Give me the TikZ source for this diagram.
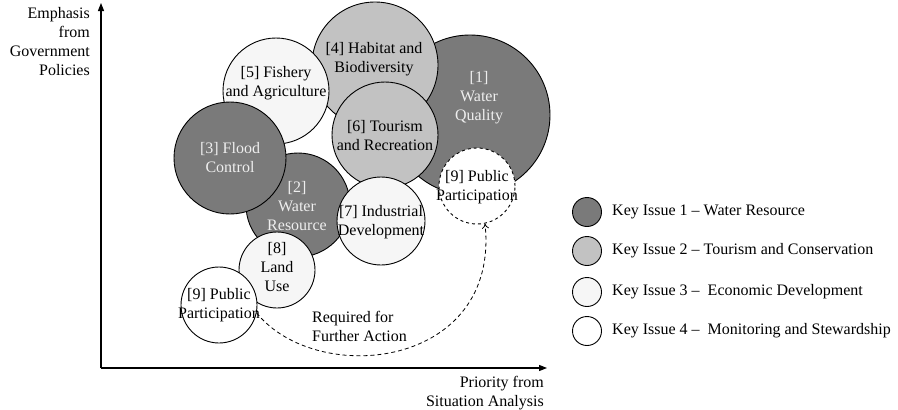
\documentclass[tikz,border=0pt]{standalone}
\usepackage{fontspec}
\setmainfont{Liberation Serif}
\usetikzlibrary{arrows.meta}
\definecolor{kdark}{HTML}{7A7A7A}
\definecolor{kmid}{HTML}{C2C2C2}
\definecolor{klight}{HTML}{F6F6F6}
\definecolor{ktext}{HTML}{EEEEEE}
\begin{document}
\begin{tikzpicture}[x=1pt,y=-1pt,
  every node/.style={font=\fontsize{16}{19}\selectfont},
  bub/.style={circle,draw=black,line width=0.9pt,inner sep=0pt,minimum size=#1},
  dark/.style={fill=kdark},
  mid/.style={fill=kmid},
  light/.style={fill=klight},
  wht/.style={fill=white},
  ctext/.style={align=center,inner sep=0pt},
  dtext/.style={ctext,text=ktext},
  axis/.style={line width=1.1pt,-{Triangle[length=8pt,width=6pt]}},
  legtext/.style={anchor=west,inner sep=0pt}]
\useasboundingbox (0,0) rectangle (898,410);
% bubbles
\node[bub=160pt,dark] (c1) at (470,115) {};
\node[bub=126pt,mid] (c4) at (375,65) {};
\node[bub=106pt,light] (c5) at (276,91) {};
\node[bub=106pt,mid] (c6) at (385,135) {};
\node[bub=104pt,dark] (c2) at (298,205) {};
\node[bub=112pt,dark] (c3) at (230,158) {};
\node[bub=88pt,light] (c7) at (381,221) {};
\node[bub=76pt,light] (c8) at (277,270) {};
\node[bub=76pt,wht] (c9a) at (219,305) {};
\node[bub=76pt,wht,dashed] (c9b) at (477,186) {};
% texts
\node[dtext] (t1) at (479,98) {[1]\\Water\\Quality};
\node[ctext] (t4) at (374,59) {[4] Habitat and\\Biodiversity};
\node[ctext] (t5) at (276,83) {[5] Fishery\\and Agriculture};
\node[ctext] (t6) at (385,136) {[6] Tourism\\and Recreation};
\node[dtext] (t2) at (297,206) {[2]\\Water\\Resource};
\node[dtext] (t3) at (230,158) {[3] Flood\\Control};
\node[ctext] (t7) at (381,222) {[7] Industrial\\Development};
\node[ctext] (t8) at (277,267) {[8]\\Land\\Use};
\node[ctext] (t9a) at (219,305) {[9] Public\\Participation};
\node[ctext] (t9b) at (477,187) {[9] Public\\Participation};
% connector
\draw[line width=0.8pt,dash pattern=on 4pt off 3pt,-{To[length=5pt,width=7pt]}]
  (c9a.-12) .. controls (318,388) and (500,368) .. (c9b.-78);
\node[align=left,anchor=west,inner sep=0pt] (req) at (312,326) {Required for\\Further Action};
% axes
\coordinate (o) at (101,368);
\coordinate (ytop) at (101,3);
\coordinate (xend) at (547,368);
\draw[axis] (o) -- (ytop);
\draw[axis] (o) -- (xend);
\node[align=right,anchor=east,inner sep=0pt] (ylab) at (90,42) {Emphasis\\from\\Government\\Policies};
\node[align=right,anchor=east,inner sep=0pt] (xlab) at (544,393) {Priority from\\Situation Analysis};
% legend
\node[bub=29pt,dark] (l1) at (587,212) {};
\node[bub=29pt,mid] (l2) at (587,251) {};
\node[bub=29pt,light] (l3) at (587,292) {};
\node[bub=29pt,wht] (l4) at (587,331) {};
\node[legtext] (lt1) at (612,212) {Key Issue 1 -- Water Resource};
\node[legtext] (lt2) at (612,251) {Key Issue 2 -- Tourism and Conservation};
\node[legtext] (lt3) at (612,292) {Key Issue 3 --\ \ Economic Development};
\node[legtext] (lt4) at (612,331) {Key Issue 4 --\ \ Monitoring and Stewardship};
\end{tikzpicture}
\end{document}
